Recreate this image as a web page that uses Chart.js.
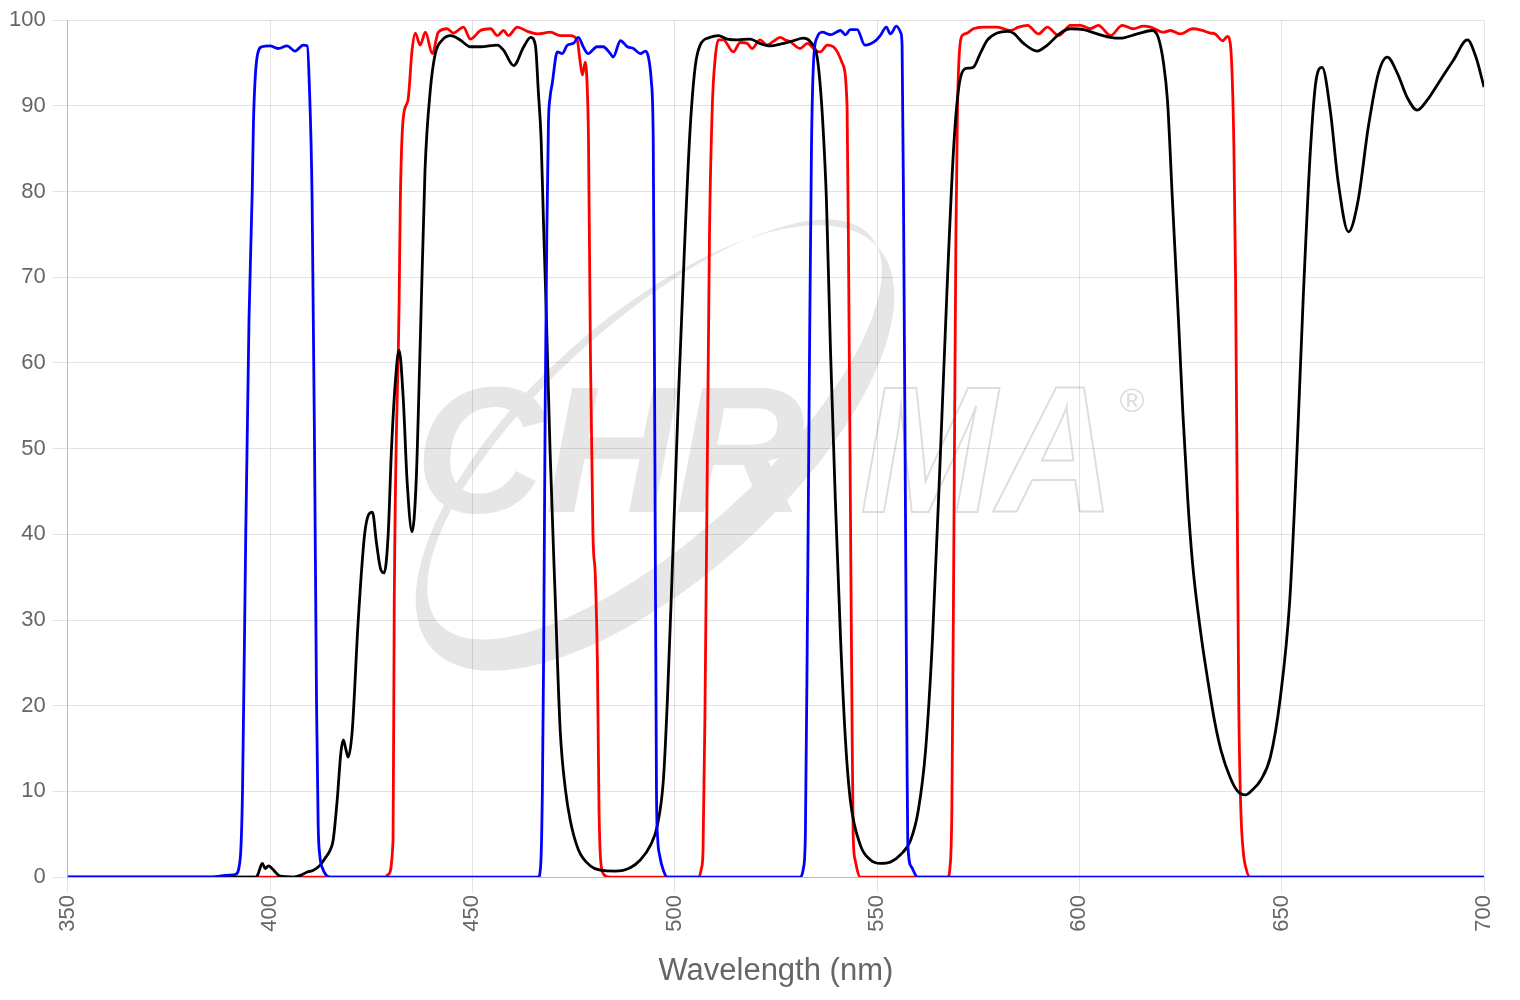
<!DOCTYPE html>
<html>
<head>
<meta charset="utf-8">
<script src="https://cdn.jsdelivr.net/npm/chart.js@4.4.1/dist/chart.umd.min.js"></script>
<style>
  html, body { margin: 0; padding: 0; background: #fff; }
  #wrap { width: 1520px; height: 1000px; }
</style>
</head>
<body>
<div id="wrap"><canvas id="grafico"></canvas></div>
<script>
// longitudes de onda (nm) y transmision (%)
const azulX = [350, 386, 389, 391.4, 392.6, 393.2, 394, 394.8, 395.6, 395.9, 396.8, 398, 400, 402, 404.2, 406.2, 408.2, 409.2, 409.7, 410.4, 411, 411.5, 411.9, 412.3, 413, 414.9,
  466.3, 466.9, 467.3, 467.6, 468, 468.4, 468.8, 469.2, 469.7, 471, 472.2, 473.5, 475, 476.2, 477.4, 478.6, 480.8, 482.3, 484.1, 484.8, 486.6, 488.3, 489.8, 491.5, 492.8, 493.5, 494.2, 494.7, 495.1, 495.5, 495.8, 496.3, 497.2, 498.2,
  531, 531.8, 532.3, 532.8, 533.3, 533.8, 534.3, 535.2, 536.5, 538.5, 541, 542.2, 543.4, 545.1, 547, 549.6, 550.8, 552.3, 553.3, 554.8, 555.9, 556.2, 556.6, 557, 557.4, 557.6, 558.5, 560, 700];
const azulY = [0, 0, 0.2, 0.3, 2, 10, 40, 65, 80, 88, 95.7, 96.9, 97, 96.7, 97, 96.4, 97.1, 97, 92.6, 79, 50, 20, 6, 2.5, 1, 0,
  0, 1.5, 10, 25, 55, 75, 88, 91, 92.5, 96.3, 96.1, 97.1, 97.3, 98, 96.9, 96.1, 96.9, 96.9, 96.1, 95.7, 97.6, 96.9, 96.7, 96.1, 96.4, 95.7, 93, 86, 50, 10, 4.5, 2.5, 0.8, 0,
  0, 1, 5, 30, 60, 85, 95, 98, 98.6, 98.3, 98.8, 98.3, 98.9, 98.9, 97.1, 97.6, 98.2, 99.2, 98.4, 99.3, 98.5, 97, 75, 45, 15, 4, 1.2, 0, 0];

const rojoX = [350, 428.5, 429.2, 430.4, 430.7, 431.9, 432.2, 432.9, 434.1, 435.1, 435.9, 437.1, 438.4, 440.1, 441.6, 443.8, 445.3, 447.8, 449.5, 452, 454.5, 456.2, 457.7, 458.9, 461.1, 463.6, 466.1, 469.3, 471.8, 474.2, 475.9, 476.6, 477.2, 477.9, 478.4, 478.7, 479.2, 479.8, 480.4, 480.9, 481.3, 481.7, 482.5, 484,
  506, 506.6, 507, 507.5, 508, 508.6, 509.3, 510, 510.8, 512, 514.5, 516.2, 517.9, 519.1, 521.1, 522.8, 524.3, 526.1, 527.3, 528.5, 531, 532.8, 534.7, 536, 537.7, 539.2, 540.2, 541.4, 542.6, 543, 543.4, 543.8, 544.1, 544.6, 545.9,
  567.5, 568, 568.5, 569, 569.5, 569.9, 570.6, 571.3, 572.3, 573.8, 576.3, 579.7, 583, 585, 587.2, 589.9, 592.1, 594.9, 597.8, 600.3, 602.7, 604.7, 607.7, 610.6, 613.3, 615.8, 617.6, 620.8, 622.5, 625, 628, 630.4, 632.4, 633.6, 635.4, 636.6, 637.3, 637.8, 638.2, 638.6, 639, 639.4, 639.9, 640.5, 641.2, 642.2, 700];
const rojoY = [0, 0, 0.3, 4.3, 32, 67, 79, 88.5, 90.7, 96.5, 98.5, 97.1, 98.6, 96.1, 98.6, 99, 98.5, 99.2, 97.8, 98.8, 99, 98.2, 98.8, 98.2, 99.2, 98.7, 98.4, 98.6, 98.2, 98.2, 97.7, 95.3, 93.6, 95.1, 92, 86, 60, 40, 35, 25, 8, 2, 0.3, 0,
  0, 1, 3, 20, 45, 75, 90, 95.5, 97.7, 97.7, 96.3, 97.4, 97.3, 96.7, 97.7, 97.1, 97.5, 98, 97.7, 97.5, 96.7, 97.3, 96.5, 96.3, 97.1, 96.9, 96.3, 95, 90, 70, 45, 20, 5, 2, 0,
  0, 1, 8, 40, 75, 90, 97.5, 98.3, 98.5, 99, 99.2, 99.2, 98.8, 99.2, 99.4, 98.4, 99.2, 98.2, 99.4, 99.4, 99, 99.4, 98.2, 99.4, 99, 99.3, 99.2, 98.6, 98.8, 98.4, 99, 98.8, 98.5, 98.4, 97.6, 98.1, 97.3, 93, 85, 70, 45, 20, 8, 3, 1, 0, 0];

const negroX = [350, 396.5, 396.9, 398.1, 398.8, 399.6, 400.5, 401.7, 402.5, 405.7, 407.5, 409.2, 410.7, 412.4, 413.6, 414.9, 415.6, 416.6, 417.5, 418.1, 418.7, 419.3, 420.3, 421.8, 423.5, 425.3, 426.3, 427.3, 428.2, 429.2, 430, 431, 431.9, 432.9, 433.9, 435.1, 436.1, 437.1, 438.3, 439.6, 440.8, 442.6, 444.6, 447, 449.5, 452, 456.2, 457.7, 460.2, 462.7, 464.4, 465.6, 466.3, 467, 467.6, 468.2, 469.2, 470.5, 471.7, 473, 474.2, 476.2, 479.2, 481.6, 485.3, 489, 491.5, 494, 495.7, 497.2, 498.2, 499.4, 500.9, 502.4, 503.8, 505.1, 506.3, 508.8, 510.8, 513, 515.5, 518.7, 521, 523.6, 526.1, 529.3, 531.8, 533.5, 535.2, 536, 536.7, 537.5, 538.5, 539.7, 541, 542.2, 543.4, 545.9, 548.4, 550.8, 553.3, 555.8, 558.3, 560.2, 562, 563.7, 565.7, 567.4, 568.9, 570.1, 571.4, 572.6, 573.8, 575.5, 577.3, 579.7, 582.2, 583.7, 586.2, 589.6, 592.1, 595.3, 597.8, 601, 604.4, 607.7, 610.1, 614.3, 618, 619.5, 620.8, 621.8, 623, 624.5, 625.6, 626.8, 628, 630, 631.9, 633.5, 635, 637.3, 639, 641, 642.8, 644.8, 647.2, 649.6, 652, 653.8, 655.3, 657.1, 658.5, 660, 662, 664, 666.5, 668.9, 671.4, 673.9, 676.1, 678.6, 681, 683.5, 686, 689.2, 692.4, 695.9, 698, 700];
const negroY = [0, 0, 0.2, 1.6, 1, 1.3, 1, 0.4, 0.1, 0, 0.2, 0.6, 0.8, 1.4, 2.2, 3.2, 4.3, 9, 14.5, 16, 15, 14, 17, 30, 40.5, 42.6, 39, 36, 35.5, 40, 49.8, 58, 61.5, 56, 46, 40.3, 46, 62, 82.5, 91.8, 96, 97.7, 98.2, 97.7, 96.9, 96.9, 97.1, 96.5, 94.7, 96.9, 98, 97, 91.7, 86, 76, 67, 49.8, 32.3, 17.2, 10.2, 6.6, 3.2, 1.3, 0.8, 0.7, 1.1, 2, 3.7, 6, 11.3, 20.7, 35.8, 55.7, 73.2, 87.2, 94.7, 97.1, 98, 98.2, 97.8, 97.7, 97.8, 97.3, 97, 97.2, 97.6, 97.9, 97.5, 95.7, 92.2, 87.2, 79, 61.5, 44, 27.7, 16, 9, 3.7, 2, 1.6, 1.75, 2.6, 4.3, 7.8, 14.8, 27.7, 49.8, 69.7, 84.8, 91.8, 94.2, 94.4, 94.5, 96.1, 97.7, 98.5, 98.7, 98.5, 97.3, 96.4, 97.1, 98.5, 99, 98.9, 98.4, 98, 97.9, 98.4, 98.8, 98, 95, 90.5, 79, 65, 54, 44, 36.5, 28.5, 22.5, 18, 14.8, 11.6, 10.1, 9.6, 10.2, 11.3, 14, 20.7, 32.3, 49.8, 67.3, 84.8, 93, 94.5, 89.5, 81, 75.3, 79, 87.5, 93.8, 95.7, 93.8, 91, 89.5, 90.7, 93, 95.3, 97.7, 95.7, 92.2];

const ticksX = [350, 400, 450, 500, 550, 600, 650, 700];

const puntos = (xs, ys) => xs.map((x, i) => ({ x: x, y: ys[i] }));

// logo de fondo (marca de agua)
const marcaAgua = {
  id: "marcaAgua",
  beforeDraw(chart) {
    const ctx = chart.ctx;
    ctx.save();
    // anillo
    ctx.translate(655, 448);
    ctx.rotate(-42 * Math.PI / 180);
    ctx.beginPath();
    ctx.ellipse(0, 0, 300, 130, 0, 0, Math.PI * 2);
    ctx.ellipse(12, -14, 290, 108, 0, 0, Math.PI * 2);
    ctx.fillStyle = "#e6e6e6";
    ctx.fill("evenodd");
    ctx.restore();

    ctx.save();
    ctx.font = "italic bold 180px 'Liberation Sans', Arial, sans-serif";
    ctx.textBaseline = "alphabetic";
    ctx.fillStyle = "#e6e6e6";
    ctx.fillText("CHR", 415, 512, 395);
    ctx.strokeStyle = "#dddddd";
    ctx.lineWidth = 2;
    ctx.strokeText("MA", 860, 512, 255);
    ctx.font = "34px 'Liberation Sans', Arial, sans-serif";
    ctx.fillStyle = "#dddddd";
    ctx.textAlign = "center";
    ctx.textBaseline = "middle";
    ctx.fillText("\u00AE", 1132, 403);
    ctx.restore();
  }
};

const config = {
  type: "line",
  data: {
    datasets: [
      { label: "azul", data: puntos(azulX, azulY), borderColor: "#0000ff" },
      { label: "negro", data: puntos(negroX, negroY), borderColor: "#000000" },
      { label: "rojo", data: puntos(rojoX, rojoY), borderColor: "#ff0000" }
    ]
  },
  options: {
    responsive: true,
    maintainAspectRatio: false,
    animation: false,
    layout: { padding: { left: 2, right: 36, top: 10, bottom: 10 } },
    elements: {
      point: { radius: 0 },
      line: { borderWidth: 2.8, cubicInterpolationMode: "monotone", fill: false }
    },
    plugins: { legend: { display: false }, tooltip: { enabled: false } },
    scales: {
      x: {
        type: "linear",
        min: 350,
        max: 700,
        afterBuildTicks: (axis) => { axis.ticks = ticksX.map(v => ({ value: v })); },
        ticks: { color: "#666", font: { size: 22 }, minRotation: 90, maxRotation: 90, padding: 2 },
        grid: { color: "rgba(0,0,0,0.11)", tickLength: 16 },
        border: { color: "rgba(0,0,0,0.18)" },
        title: { display: true, text: "Wavelength (nm)", color: "#666", font: { size: 31 }, padding: { top: 19, bottom: 0 } }
      },
      y: {
        min: 0,
        max: 100,
        ticks: { stepSize: 10, color: "#666", font: { size: 22 }, padding: 7 },
        grid: { color: "rgba(0,0,0,0.11)", tickLength: 15 },
        border: { color: "rgba(0,0,0,0.18)" }
      }
    }
  },
  plugins: [marcaAgua]
};

const grafico = new Chart(document.getElementById("grafico"), config);
</script>
</body>
</html>
